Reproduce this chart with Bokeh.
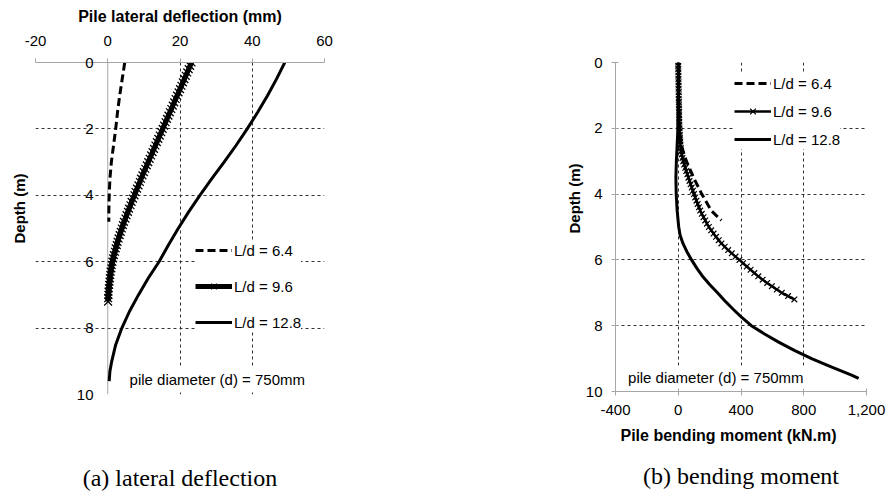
from bokeh.plotting import figure
from bokeh.layouts import row
from bokeh.models import (Range1d, FixedTicker, Legend, LegendItem, Label,
                          NumeralTickFormatter, LinearAxis, Span, Title)
from bokeh.embed import file_html
from bokeh.resources import INLINE

FONT = "Liberation Sans"
SERIF = "Liberation Serif"

# ---------------- data: (a) lateral deflection ----------------
DEPTH_64 = [0.0, 0.5, 1.0, 1.5, 2.0, 2.5, 3.0, 3.5, 4.0, 4.5, 4.8]
DEFL_64 = [4.7, 4.0, 3.3, 2.7, 2.2, 1.6, 1.0, 0.6, 0.4, 0.3, 0.3]

DEPTH_96 = [0.0, 0.1, 0.2, 0.3, 0.4, 0.5, 0.6, 0.7, 0.8, 0.9,
            1.0, 1.1, 1.2, 1.3, 1.4, 1.5, 1.6, 1.7, 1.8, 1.9,
            2.0, 2.1, 2.2, 2.3, 2.4, 2.5, 2.6, 2.7, 2.8, 2.9,
            3.0, 3.1, 3.2, 3.3, 3.4, 3.5, 3.6, 3.7, 3.8, 3.9,
            4.0, 4.1, 4.2, 4.3, 4.4, 4.5, 4.6, 4.7, 4.8, 4.9,
            5.0, 5.1, 5.2, 5.3, 5.4, 5.5, 5.6, 5.7, 5.8, 5.9,
            6.0, 6.1, 6.2, 6.3, 6.4, 6.5, 6.6, 6.7, 6.8, 6.9,
            7.0, 7.1, 7.2]
DEFL_96 = [23.2, 22.8, 22.4, 22.0, 21.6, 21.2, 20.8, 20.4, 20.0, 19.6,
           19.2, 18.8, 18.4, 18.0, 17.6, 17.2, 16.8, 16.4, 16.0, 15.6,
           15.2, 14.8, 14.4, 14.0, 13.6, 13.2, 12.8, 12.4, 12.0, 11.6,
           11.2, 10.8, 10.4, 10.0, 9.6, 9.2, 8.9, 8.5, 8.1, 7.7,
           7.4, 7.0, 6.6, 6.3, 5.9, 5.6, 5.2, 4.9, 4.5, 4.2,
           3.9, 3.6, 3.3, 3.0, 2.7, 2.5, 2.2, 2.0, 1.7, 1.5,
           1.3, 1.1, 1.0, 0.8, 0.7, 0.6, 0.5, 0.4, 0.3, 0.2,
           0.2, 0.1, 0.1]

DEPTH_128 = [0.0, 0.5, 1.0, 1.5, 2.0, 2.5, 3.0, 3.5, 4.0, 4.5, 5.0,
             5.5, 6.0, 6.5, 7.0, 7.5, 8.0, 8.5, 9.0, 9.3, 9.6]
DEFL_128 = [49.0, 46.7, 44.2, 41.5, 38.6, 35.5, 32.2, 28.8, 25.5, 22.4, 19.5,
            16.8, 14.2, 11.2, 8.5, 6.0, 3.9, 2.2, 1.1, 0.6, 0.4]

# ---------------- data: (b) bending moment ----------------
MOM_64 = [0, 1, 3, 6, 9, 18, 52, 98, 150, 210, 275]
MOM_96 = [0, 0, 0, 1, 1, 1, 2, 2, 2, 3,
          3, 3, 4, 4, 5, 5, 6, 6, 7, 7,
          8, 9, 10, 11, 13, 14, 16, 18, 22, 27,
          32, 38, 45, 51, 58, 65, 72, 79, 86, 93,
          100, 108, 116, 124, 132, 140, 150, 161, 172, 183,
          195, 210, 225, 241, 258, 275, 296, 318, 341, 365,
          390, 413, 437, 461, 485, 510, 538, 567, 597, 628,
          660, 700, 740]
DEPTH_128B = [0.0, 0.5, 1.0, 1.5, 2.0, 2.5, 3.0, 3.5, 4.0, 4.5, 5.0,
              5.25, 5.5, 5.75, 6.0, 6.25, 6.5, 6.75, 7.0, 7.25, 7.5,
              7.75, 8.0, 8.25, 8.5, 8.75, 9.0, 9.25, 9.5, 9.6]
MOM_128 = [0, 1, 2, 1, -2, -7, -12, -15, -13, -7, 3,
           12, 30, 55, 85, 118, 155, 200, 250, 298, 350,
           405, 466, 550, 640, 740, 850, 975, 1105, 1150]

LABELS = ["L/d = 6.4", "L/d = 9.6", "L/d = 12.8"]
DEFL_TICKS = [-20, 0, 20, 40, 60]
MOM_TICKS = [-400, 0, 400, 800, 1200]
DEPTH_TICKS = [0, 2, 4, 6, 8, 10]
NOTE = "pile diameter (d) = 750mm"
CAPTION_A = "(a) lateral deflection"
CAPTION_B = "(b) bending moment"


def style_axes(p):
    for ax in p.xaxis + p.yaxis:
        ax.axis_line_color = "#a6a6a6"
        ax.major_tick_line_color = "#a6a6a6"
        ax.minor_tick_line_color = None
        ax.major_label_text_font = FONT
        ax.major_label_text_font_size = "15px"
        ax.major_label_text_color = "black"
        ax.axis_label_text_font = FONT
        ax.axis_label_text_font_size = "16px"
        ax.axis_label_text_font_style = "bold"
        ax.axis_label_text_color = "black"


def style_grid(p, xt, yt):
    p.xgrid.ticker = FixedTicker(ticks=xt)
    p.ygrid.ticker = FixedTicker(ticks=yt)
    for g in list(p.xgrid) + list(p.ygrid):
        g.grid_line_color = "#333333"
        g.grid_line_dash = "3 3"
        g.grid_line_width = 1


def make_legend(items, loc, spacing, pad):
    lg = Legend(items=items, location=loc)
    lg.border_line_color = None
    lg.background_fill_color = "white"
    lg.background_fill_alpha = 1
    lg.padding = pad
    lg.margin = 0
    lg.spacing = spacing
    lg.glyph_width = 37
    lg.glyph_height = 20
    lg.label_height = 20
    lg.label_standoff = 2
    lg.label_text_font = FONT
    lg.label_text_font_size = "15px"
    lg.label_text_color = "black"
    return lg


def caption_axis(text, standoff):
    """An axis that carries only a caption (no line, ticks or tick labels)."""
    ax = LinearAxis(ticker=FixedTicker(ticks=[]), axis_label=text)
    ax.axis_line_color = None
    ax.major_tick_line_color = None
    ax.minor_tick_line_color = None
    ax.major_tick_out = 0
    ax.major_tick_in = 0
    ax.major_label_standoff = 0
    ax.axis_label_standoff = standoff
    ax.axis_label_text_font = SERIF
    ax.axis_label_text_font_size = "24px"
    ax.axis_label_text_font_style = "normal"
    ax.axis_label_text_color = "black"
    return ax


def side_title(text, offset, standoff, size, valign):
    return Title(text=text, align="left", offset=offset, standoff=standoff,
                 vertical_align=valign, text_font=FONT, text_font_size=size,
                 text_font_style="bold", text_color="black")


# ---------------- (a) ----------------
pA = figure(frame_width=289, frame_height=332,
            min_border_left=33, min_border_right=121,
            min_border_top=62, min_border_bottom=98,
            x_range=Range1d(-20, 60), y_range=Range1d(10, 0),
            x_axis_location="above",
            output_backend="svg", toolbar_location=None)
pA.outline_line_color = None
style_axes(pA)
pA.xaxis.ticker = FixedTicker(ticks=DEFL_TICKS)
pA.xaxis.formatter = NumeralTickFormatter(format="0")
pA.xaxis.axis_label = "Pile lateral deflection (mm)"
pA.xaxis.major_tick_out = 4
pA.xaxis.major_tick_in = 0
pA.xaxis.major_label_standoff = 13
pA.xaxis.axis_label_standoff = 8
# y axis sits at the left frame edge; its labels are pulled in next to x = 0
pA.yaxis.ticker = FixedTicker(ticks=DEPTH_TICKS)
pA.yaxis.formatter = NumeralTickFormatter(format="0")
pA.yaxis.axis_line_color = None
pA.yaxis.major_tick_line_color = None
pA.yaxis.major_tick_out = 0
pA.yaxis.major_tick_in = 0
pA.yaxis.major_label_standoff = -58
pA.add_layout(side_title("Depth (m)", 151, 16, "15px", "bottom"), "left")
style_grid(pA, [-20, 20, 40, 60], [2, 4, 6, 8, 10])
pA.add_layout(Span(location=0, dimension="height", line_color="#a6a6a6",
                   line_width=1, level="underlay"))
pA.add_layout(caption_axis(CAPTION_A, 70), "below")

a64 = pA.line(DEFL_64, DEPTH_64, line_width=3, line_dash="8 4", color="black")
a96 = pA.line(DEFL_96, DEPTH_96, line_width=5, color="black")
a96m = pA.scatter(DEFL_96, DEPTH_96, marker="x", size=11, line_width=1.3, color="black")
a128 = pA.line(DEFL_128, DEPTH_128, line_width=3, color="black")

pA.add_layout(make_legend([
    LegendItem(label=LABELS[0], renderers=[a64]),
    LegendItem(label=LABELS[1], renderers=[a96, a96m]),
    LegendItem(label=LABELS[2], renderers=[a128]),
], (160, 62), 16, 10))

pA.add_layout(Label(x=5.2, y=9.55, text=NOTE, text_font=FONT,
                    text_font_size="15px", text_baseline="middle",
                    text_align="left", text_color="black",
                    background_fill_color="white", padding=3))

# ---------------- (b) ----------------
pB = figure(frame_width=251, frame_height=329,
            min_border_left=170, min_border_right=23,
            min_border_top=62, min_border_bottom=101,
            x_range=Range1d(-400, 1200), y_range=Range1d(10, 0),
            output_backend="svg", toolbar_location=None)
pB.outline_line_color = None
style_axes(pB)
pB.xaxis.ticker = FixedTicker(ticks=MOM_TICKS)
pB.xaxis.formatter = NumeralTickFormatter(format="0,0")
pB.yaxis.ticker = FixedTicker(ticks=DEPTH_TICKS)
pB.yaxis.formatter = NumeralTickFormatter(format="0")
for ax in pB.xaxis + pB.yaxis:
    ax.major_tick_out = 4
    ax.major_tick_in = 3
    ax.major_label_standoff = 9
pB.add_layout(side_title("Depth (m)", 158, 0, "15px", "bottom"), "left")
pB.add_layout(side_title("Pile bending moment (kN.m)", 5, 18, "16px", "top"), "below")
pB.add_layout(caption_axis(CAPTION_B, 8), "below")
style_grid(pB, [0, 400, 800, 1200], [0, 2, 4, 6, 8])

b64 = pB.line(MOM_64, DEPTH_64, line_width=3, line_dash="8 4", color="black")
b96 = pB.line(MOM_96, DEPTH_96, line_width=2.5, color="black")
b96m = pB.scatter(MOM_96, DEPTH_96, marker="x", size=8, line_width=1.2, color="black")
b128 = pB.line(MOM_128, DEPTH_128B, line_width=3, color="black")

pB.add_layout(make_legend([
    LegendItem(label=LABELS[0], renderers=[b64]),
    LegendItem(label=LABELS[1], renderers=[b96, b96m]),
    LegendItem(label=LABELS[2], renderers=[b128]),
], (119, 242), 8, 8))

pB.add_layout(Label(x=-339, y=9.57, text=NOTE, text_font=FONT,
                    text_font_size="15px", text_baseline="middle",
                    text_align="left", text_color="black",
                    background_fill_color="white", padding=3))

layout = row(pA, pB)
open("out.html", "w").write(file_html(layout, INLINE))
